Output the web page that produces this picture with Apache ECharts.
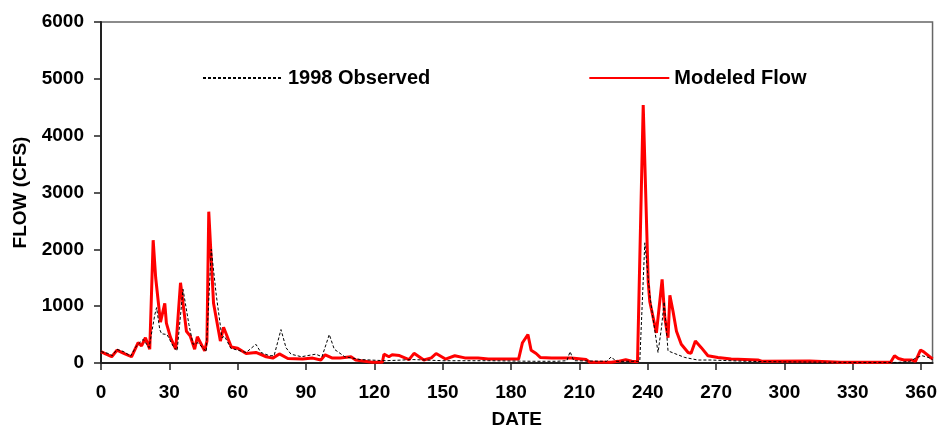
<!DOCTYPE html>
<html>
<head>
<meta charset="utf-8">
<title>1998 Observed vs Modeled Flow</title>
<script src="https://cdn.jsdelivr.net/npm/echarts@6/dist/echarts.min.js"></script>
<style>
  html, body { margin: 0; padding: 0; background: #fff; }
  #main { width: 940px; height: 434px; }
</style>
</head>
<body>
<div id="main"></div>
<script type="text/javascript">
// observed flow (day of year, cfs)
var obsDays = [0, 3, 5, 7, 10, 13, 15.6, 18.5, 21.1, 23.6, 24.4, 25.8, 26.6, 29, 31.6, 33.4, 36, 36.4, 38.6, 40.4, 42.6, 46.2,
  48.4, 50.6, 53.1, 54.2, 57, 63.7, 68, 70.2, 74, 76, 79, 81.2, 83.4, 88, 92, 94.3, 97, 100.2, 102.4, 107, 114, 125, 137,
  150, 170, 190, 200, 204.5, 205.9, 207.5, 222, 224, 226, 236.5, 238.7, 240.9, 242.3, 244.5, 246, 247.2, 248.9, 251.6,
  256.2, 262, 268, 283, 300, 330, 350, 355, 358.3, 360.5, 363, 365];
var obsFlow = [200, 170, 130, 240, 200, 120, 300, 415, 270, 847, 974, 588, 514, 501, 300, 213, 1297, 1297, 674, 329, 357, 200,
  2000, 1193, 444, 472, 259, 185, 329, 185, 127, 130, 588, 270, 155, 110, 140, 155, 110, 501, 242, 110, 60, 40, 60,
  40, 40, 30, 30, 40, 200, 40, 30, 110, 30, 30, 2115, 1193, 790, 185, 616, 1077, 213, 170,
  98, 52, 52, 30, 20, 10, 10, 30, 100, 127, 100, 60];

// modeled flow
var modDays = [0, 2, 4.7, 7, 10, 13.4, 16.3, 17.8, 19.5, 21.4, 22.9, 24, 26.1, 28, 28.7, 30.5, 32.8, 34.9, 37.5, 39.2, 41.1,
  42.3, 45.5, 46.5, 47.3, 49.4, 52.4, 53.8, 57.2, 60, 63.7, 68, 72.5, 75.4, 78.3, 82, 88.5, 92.9, 96.5, 98.4, 101.6, 105,
  109.7, 111.8, 119, 123.5, 124.2, 126.4, 127.8, 131, 135.2, 137.4, 141.7, 145, 147.1, 151.2, 155.3, 159.7, 165.5, 170,
  183.3, 185, 187.4, 188.8, 191, 192.8, 197.8, 206.5, 213, 214.6, 224, 227, 230.3, 233, 235.5, 238, 240.2, 240.9, 243.8,
  246.3, 247.5, 248.9, 249.7, 251.1, 252.6, 254.7, 257.7, 259, 260.9, 263.5, 266.4, 270.8, 276.6, 288.3, 290, 311, 324.7,
  346.6, 348.3, 350, 352.4, 356, 357.5, 359.7, 361, 365];
var modFlow = [200, 160, 110, 225, 170, 110, 357, 300, 444, 242, 2161, 1500, 720, 1050, 703, 450, 242, 1412, 559, 472, 242,
  462, 213, 386, 2663, 1050, 386, 628, 282, 259, 167, 185, 110, 86, 160, 80, 70, 86, 52, 144, 86, 90,
  110, 52, 12, 12, 155, 110, 144, 130, 60, 170, 52, 90, 167, 69, 127, 90, 90, 70,
  69, 357, 501, 225, 167, 98, 90, 90, 60, 12, 12, 29, 57, 30, 20, 4540, 1423, 1077, 530,
  1470, 790, 444, 1193, 905, 559, 329, 185, 170, 386, 270, 127, 98, 69, 52, 30, 35, 12,
  12, 127, 80, 52, 52, 30, 225, 200, 70];

var xTicks = [0, 30, 60, 90, 120, 150, 180, 210, 240, 270, 300, 330, 360];
var yTicks = [0, 1000, 2000, 3000, 4000, 5000, 6000];

function pairs(days, vals) {
  return days.map(function (d, i) { return [d, vals[i]]; });
}

var font = '"Liberation Sans", Arial, sans-serif';
var myChart = echarts.init(document.getElementById('main'));

var option = {
  animation: false,
  textStyle: { fontFamily: font, color: '#000' },
  grid: {
    left: 101, right: 6, top: 22, bottom: 65,
    show: true, borderColor: '#666', borderWidth: 1.5, backgroundColor: '#fff'
  },
  legend: {
    left: 197, top: 63,
    itemWidth: 80, itemHeight: 14, itemGap: 158,
    itemStyle: { opacity: 0, borderWidth: 0 },
    textStyle: { fontFamily: font, fontWeight: 'bold', fontSize: 20, color: '#000' },
    data: ['1998 Observed', 'Modeled Flow']
  },
  xAxis: {
    type: 'value',
    min: 0, max: 365, interval: 30,
    name: 'DATE', nameLocation: 'middle', nameGap: 47,
    nameTextStyle: { fontFamily: font, fontWeight: 'bold', fontSize: 19, color: '#000' },
    axisLine: { show: true, onZero: false, lineStyle: { color: '#222', width: 2 } },
    axisTick: { show: true, inside: false, length: 7, lineStyle: { color: '#222', width: 1.5 },
      customValues: xTicks },
    axisLabel: { margin: 20, fontWeight: 'bold', fontSize: 19, color: '#000',
      customValues: xTicks },
    splitLine: { show: false }
  },
  yAxis: {
    type: 'value',
    min: 0, max: 6000, interval: 1000,
    name: 'FLOW (CFS)', nameLocation: 'middle', nameGap: 71, nameRotate: 90,
    nameTextStyle: { fontFamily: font, fontWeight: 'bold', fontSize: 19, color: '#000' },
    axisLine: { show: true, lineStyle: { color: '#222', width: 2 } },
    axisTick: { show: true, inside: false, length: 7, lineStyle: { color: '#222', width: 1.5 } },
    axisLabel: { margin: 17, fontWeight: 'bold', fontSize: 19, color: '#000',
      formatter: function (v) { return yTicks.indexOf(v) >= 0 ? String(v) : ''; } },
    splitLine: { show: false }
  },
  series: [
    {
      name: '1998 Observed',
      type: 'line',
      symbol: 'none',
      z: 3,
      lineStyle: { color: '#000', width: 1, type: [3, 2] },
      itemStyle: { color: '#000' },
      data: pairs(obsDays, obsFlow)
    },
    {
      name: 'Modeled Flow',
      type: 'line',
      symbol: 'none',
      z: 2,
      lineStyle: { color: '#ff0000', width: 3 },
      itemStyle: { color: '#ff0000' },
      data: pairs(modDays, modFlow)
    }
  ]
};

myChart.setOption(option);
</script>
</body>
</html>
